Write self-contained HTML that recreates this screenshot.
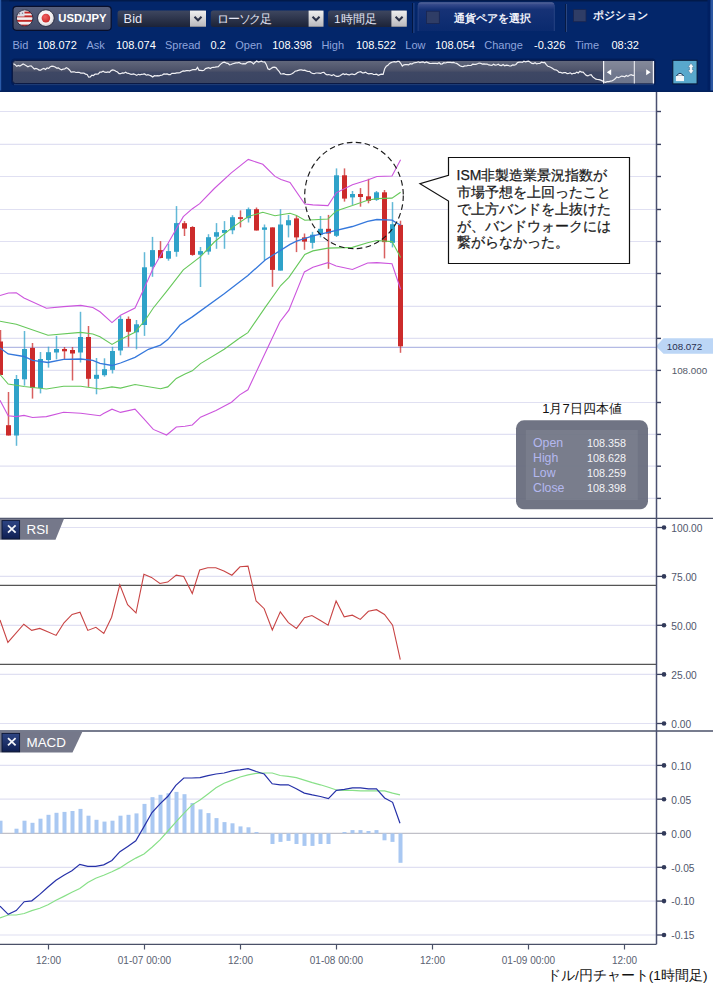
<!DOCTYPE html>
<html><head><meta charset="utf-8"><title>USD/JPY chart</title>
<style>html,body{margin:0;padding:0;width:713px;height:989px;overflow:hidden;background:#fff;font-family:"Liberation Sans",sans-serif;}svg text{font-family:"Liberation Sans",sans-serif;}</style>
</head><body>
<svg width="713" height="989" viewBox="0 0 713 989" style="position:absolute;left:0;top:0"><defs><linearGradient id="xg" x1="0" y1="0" x2="0" y2="1"><stop offset="0" stop-color="#2e4584"/><stop offset="1" stop-color="#0f1f52"/></linearGradient></defs><line x1="0" y1="111.5" x2="656.5" y2="111.5" stroke="#e0e0f2" stroke-width="1.2"/><line x1="0" y1="144.4" x2="656.5" y2="144.4" stroke="#e0e0f2" stroke-width="1.2"/><line x1="0" y1="176.5" x2="656.5" y2="176.5" stroke="#e0e0f2" stroke-width="1.2"/><line x1="0" y1="209.5" x2="656.5" y2="209.5" stroke="#e0e0f2" stroke-width="1.2"/><line x1="0" y1="241.5" x2="656.5" y2="241.5" stroke="#e0e0f2" stroke-width="1.2"/><line x1="0" y1="273.5" x2="656.5" y2="273.5" stroke="#e0e0f2" stroke-width="1.2"/><line x1="0" y1="306.3" x2="656.5" y2="306.3" stroke="#e0e0f2" stroke-width="1.2"/><line x1="0" y1="338.4" x2="656.5" y2="338.4" stroke="#e0e0f2" stroke-width="1.2"/><line x1="0" y1="370.4" x2="656.5" y2="370.4" stroke="#e0e0f2" stroke-width="1.2"/><line x1="0" y1="402.5" x2="656.5" y2="402.5" stroke="#e0e0f2" stroke-width="1.2"/><line x1="0" y1="434.4" x2="656.5" y2="434.4" stroke="#e0e0f2" stroke-width="1.2"/><line x1="0" y1="466.2" x2="656.5" y2="466.2" stroke="#e0e0f2" stroke-width="1.2"/><line x1="0" y1="498.4" x2="656.5" y2="498.4" stroke="#e0e0f2" stroke-width="1.2"/><line x1="0" y1="347.3" x2="656.5" y2="347.3" stroke="#b4bae4" stroke-width="1.3"/><rect x="-0.25" y="330.0" width="1.5" height="45.0" fill="#cc2b2b" fill-opacity="0.75"/><rect x="-2" y="341.5" width="5" height="33.5" fill="#cc2b2b"/><rect x="7.75" y="392.0" width="1.5" height="43.5" fill="#cc2b2b" fill-opacity="0.75"/><rect x="6" y="425.2" width="5" height="10.3" fill="#cc2b2b"/><rect x="15.75" y="375.0" width="1.5" height="70.8" fill="#2fa2c9" fill-opacity="0.75"/><rect x="14" y="379.0" width="5" height="56.5" fill="#2fa2c9"/><rect x="23.75" y="331.0" width="1.5" height="54.7" fill="#2fa2c9" fill-opacity="0.75"/><rect x="22" y="349.0" width="5" height="30.3" fill="#2fa2c9"/><rect x="31.75" y="343.0" width="1.5" height="55.6" fill="#cc2b2b" fill-opacity="0.75"/><rect x="30" y="347.9" width="5" height="40.0" fill="#cc2b2b"/><rect x="39.75" y="352.0" width="1.5" height="41.4" fill="#2fa2c9" fill-opacity="0.75"/><rect x="38" y="359.0" width="5" height="29.0" fill="#2fa2c9"/><rect x="47.75" y="346.7" width="1.5" height="20.9" fill="#2fa2c9" fill-opacity="0.75"/><rect x="46" y="352.2" width="5" height="7.8" fill="#2fa2c9"/><rect x="55.75" y="335.8" width="1.5" height="23.6" fill="#2fa2c9" fill-opacity="0.75"/><rect x="54" y="349.0" width="5" height="3.5" fill="#2fa2c9"/><rect x="63.75" y="347.0" width="1.5" height="12.4" fill="#cc2b2b" fill-opacity="0.75"/><rect x="62" y="349.0" width="5" height="2.3" fill="#cc2b2b"/><rect x="71.75" y="347.0" width="1.5" height="33.5" fill="#cc2b2b" fill-opacity="0.75"/><rect x="70" y="350.0" width="5" height="3.5" fill="#cc2b2b"/><rect x="79.75" y="311.8" width="1.5" height="50.7" fill="#2fa2c9" fill-opacity="0.75"/><rect x="78" y="337.0" width="5" height="15.5" fill="#2fa2c9"/><rect x="87.75" y="326.0" width="1.5" height="60.9" fill="#cc2b2b" fill-opacity="0.75"/><rect x="86" y="337.0" width="5" height="41.8" fill="#cc2b2b"/><rect x="95.75" y="358.0" width="1.5" height="36.3" fill="#2fa2c9" fill-opacity="0.75"/><rect x="94" y="374.8" width="5" height="4.0" fill="#2fa2c9"/><rect x="103.75" y="358.3" width="1.5" height="18.4" fill="#2fa2c9" fill-opacity="0.75"/><rect x="102" y="369.2" width="5" height="6.0" fill="#2fa2c9"/><rect x="111.75" y="346.8" width="1.5" height="26.7" fill="#2fa2c9" fill-opacity="0.75"/><rect x="110" y="351.0" width="5" height="18.9" fill="#2fa2c9"/><rect x="119.75" y="316.0" width="1.5" height="39.3" fill="#2fa2c9" fill-opacity="0.75"/><rect x="118" y="318.9" width="5" height="31.6" fill="#2fa2c9"/><rect x="127.75" y="316.5" width="1.5" height="30.3" fill="#cc2b2b" fill-opacity="0.75"/><rect x="126" y="318.9" width="5" height="12.9" fill="#cc2b2b"/><rect x="135.75" y="320.0" width="1.5" height="29.3" fill="#2fa2c9" fill-opacity="0.75"/><rect x="134" y="324.3" width="5" height="8.0" fill="#2fa2c9"/><rect x="143.75" y="252.2" width="1.5" height="83.7" fill="#2fa2c9" fill-opacity="0.75"/><rect x="142" y="267.3" width="5" height="57.7" fill="#2fa2c9"/><rect x="151.75" y="236.9" width="1.5" height="39.9" fill="#2fa2c9" fill-opacity="0.75"/><rect x="150" y="250.1" width="5" height="16.6" fill="#2fa2c9"/><rect x="159.75" y="241.1" width="1.5" height="17.2" fill="#cc2b2b" fill-opacity="0.75"/><rect x="158" y="250.1" width="5" height="7.9" fill="#cc2b2b"/><rect x="167.75" y="243.6" width="1.5" height="17.1" fill="#2fa2c9" fill-opacity="0.75"/><rect x="166" y="251.1" width="5" height="7.6" fill="#2fa2c9"/><rect x="175.75" y="206.1" width="1.5" height="50.6" fill="#2fa2c9" fill-opacity="0.75"/><rect x="174" y="223.1" width="5" height="28.7" fill="#2fa2c9"/><rect x="183.75" y="221.1" width="1.5" height="14.9" fill="#cc2b2b" fill-opacity="0.75"/><rect x="182" y="223.2" width="5" height="5.4" fill="#cc2b2b"/><rect x="191.75" y="226.2" width="1.5" height="29.5" fill="#cc2b2b" fill-opacity="0.75"/><rect x="190" y="227.0" width="5" height="27.9" fill="#cc2b2b"/><rect x="199.75" y="247.0" width="1.5" height="40.0" fill="#2fa2c9" fill-opacity="0.75"/><rect x="198" y="251.1" width="5" height="3.6" fill="#2fa2c9"/><rect x="207.75" y="234.2" width="1.5" height="20.5" fill="#2fa2c9" fill-opacity="0.75"/><rect x="206" y="237.2" width="5" height="14.4" fill="#2fa2c9"/><rect x="215.75" y="223.1" width="1.5" height="25.7" fill="#2fa2c9" fill-opacity="0.75"/><rect x="214" y="232.2" width="5" height="4.5" fill="#2fa2c9"/><rect x="223.75" y="221.1" width="1.5" height="27.7" fill="#2fa2c9" fill-opacity="0.75"/><rect x="222" y="230.0" width="5" height="2.9" fill="#2fa2c9"/><rect x="231.75" y="215.2" width="1.5" height="19.0" fill="#2fa2c9" fill-opacity="0.75"/><rect x="230" y="217.2" width="5" height="13.1" fill="#2fa2c9"/><rect x="239.75" y="210.4" width="1.5" height="17.0" fill="#cc2b2b" fill-opacity="0.75"/><rect x="238" y="217.2" width="5" height="1.7" fill="#cc2b2b"/><rect x="247.75" y="207.5" width="1.5" height="15.0" fill="#2fa2c9" fill-opacity="0.75"/><rect x="246" y="209.2" width="5" height="9.0" fill="#2fa2c9"/><rect x="255.75" y="207.5" width="1.5" height="23.0" fill="#cc2b2b" fill-opacity="0.75"/><rect x="254" y="209.2" width="5" height="21.3" fill="#cc2b2b"/><rect x="263.75" y="224.5" width="1.5" height="35.6" fill="#2fa2c9" fill-opacity="0.75"/><rect x="262" y="227.4" width="5" height="2.4" fill="#2fa2c9"/><rect x="271.75" y="227.4" width="1.5" height="59.4" fill="#cc2b2b" fill-opacity="0.75"/><rect x="270" y="227.4" width="5" height="42.5" fill="#cc2b2b"/><rect x="279.75" y="209.2" width="1.5" height="61.4" fill="#2fa2c9" fill-opacity="0.75"/><rect x="278" y="224.5" width="5" height="46.1" fill="#2fa2c9"/><rect x="287.75" y="214.9" width="1.5" height="22.5" fill="#2fa2c9" fill-opacity="0.75"/><rect x="286" y="220.2" width="5" height="5.1" fill="#2fa2c9"/><rect x="295.75" y="216.0" width="1.5" height="36.1" fill="#cc2b2b" fill-opacity="0.75"/><rect x="294" y="218.4" width="5" height="19.0" fill="#cc2b2b"/><rect x="303.75" y="233.5" width="1.5" height="16.3" fill="#cc2b2b" fill-opacity="0.75"/><rect x="302" y="237.4" width="5" height="4.2" fill="#cc2b2b"/><rect x="311.75" y="231.9" width="1.5" height="16.7" fill="#2fa2c9" fill-opacity="0.75"/><rect x="310" y="234.7" width="5" height="8.1" fill="#2fa2c9"/><rect x="319.75" y="216.0" width="1.5" height="21.4" fill="#2fa2c9" fill-opacity="0.75"/><rect x="318" y="228.8" width="5" height="5.9" fill="#2fa2c9"/><rect x="327.75" y="214.9" width="1.5" height="53.9" fill="#cc2b2b" fill-opacity="0.75"/><rect x="326" y="228.8" width="5" height="4.7" fill="#cc2b2b"/><rect x="335.75" y="168.4" width="1.5" height="68.6" fill="#2fa2c9" fill-opacity="0.75"/><rect x="334" y="175.3" width="5" height="60.5" fill="#2fa2c9"/><rect x="343.75" y="168.4" width="1.5" height="33.2" fill="#cc2b2b" fill-opacity="0.75"/><rect x="342" y="175.3" width="5" height="23.3" fill="#cc2b2b"/><rect x="351.75" y="191.0" width="1.5" height="13.9" fill="#2fa2c9" fill-opacity="0.75"/><rect x="350" y="194.0" width="5" height="3.4" fill="#2fa2c9"/><rect x="359.75" y="188.1" width="1.5" height="18.6" fill="#cc2b2b" fill-opacity="0.75"/><rect x="358" y="194.0" width="5" height="3.0" fill="#cc2b2b"/><rect x="367.75" y="178.8" width="1.5" height="24.5" fill="#cc2b2b" fill-opacity="0.75"/><rect x="366" y="196.3" width="5" height="4.6" fill="#cc2b2b"/><rect x="375.75" y="191.0" width="1.5" height="9.9" fill="#2fa2c9" fill-opacity="0.75"/><rect x="374" y="192.3" width="5" height="7.5" fill="#2fa2c9"/><rect x="383.75" y="190.0" width="1.5" height="68.4" fill="#cc2b2b" fill-opacity="0.75"/><rect x="382" y="192.3" width="5" height="49.8" fill="#cc2b2b"/><rect x="391.75" y="202.1" width="1.5" height="45.3" fill="#2fa2c9" fill-opacity="0.75"/><rect x="390" y="224.2" width="5" height="18.6" fill="#2fa2c9"/><rect x="399.75" y="220.7" width="1.5" height="132.1" fill="#cc2b2b" fill-opacity="0.75"/><rect x="398" y="224.9" width="5" height="121.4" fill="#cc2b2b"/><polyline points="0.0,295.5 8.5,293.0 16.3,292.9 24.0,298.0 46.4,308.3 63.6,306.6 80.8,305.4 92.8,307.5 100.0,311.8 112.0,322.6 120.5,315.3 135.0,308.0 143.5,289.8 153.3,268.0 163.0,251.1 167.8,243.7 183.3,216.7 192.4,208.7 199.7,203.6 214.3,188.5 231.3,172.8 248.3,159.4 262.8,164.3 275.0,176.4 281.0,179.6 290.0,182.5 304.8,204.0 312.9,204.9 328.0,205.6 336.2,192.8 352.4,184.7 367.6,180.0 376.9,176.5 392.0,176.0 400.6,159.8" fill="none" stroke="#cc55dd" stroke-width="1.1"/><polyline points="0.0,400.3 8.2,415.7 16.3,416.6 24.0,415.4 32.6,417.5 46.4,416.6 63.6,412.3 80.8,413.2 100.0,415.7 103.5,413.6 112.0,409.2 120.5,412.4 135.0,409.2 143.5,418.4 153.3,429.4 166.6,435.0 176.3,427.0 185.0,426.3 192.3,425.0 200.5,417.2 216.0,410.4 231.5,402.2 239.7,394.9 247.9,389.8 265.2,353.0 279.8,322.0 288.9,310.1 304.4,271.9 312.9,267.2 328.0,262.6 336.2,266.0 352.4,269.5 367.6,263.0 376.9,262.6 392.0,263.7 400.6,289.3" fill="none" stroke="#cc55dd" stroke-width="1.1"/><polyline points="0.0,321.2 16.3,324.3 48.0,335.3 80.8,332.4 92.8,334.0 100.0,336.7 112.0,344.4 120.5,339.6 135.0,332.3 146.0,319.0 153.3,308.0 167.8,289.8 183.3,269.9 200.5,256.7 214.3,242.0 232.5,227.4 248.3,216.5 262.8,212.3 275.0,215.7 290.0,213.3 296.6,215.6 304.8,220.2 328.0,219.0 336.2,210.9 352.4,205.6 367.6,200.2 376.9,198.6 392.0,198.1 400.6,192.3" fill="none" stroke="#66c85a" stroke-width="1.1"/><polyline points="0.0,374.5 8.2,384.0 24.0,386.5 46.4,389.0 63.6,386.2 80.8,386.2 100.0,389.0 112.0,386.9 120.5,388.1 135.0,384.5 160.5,388.8 167.8,386.9 176.3,378.4 185.0,374.0 192.3,370.8 200.5,363.6 224.2,349.3 239.7,338.0 247.9,332.6 265.2,307.4 280.7,285.5 288.9,277.3 304.8,254.4 312.9,250.9 328.0,248.1 352.4,247.4 367.6,242.8 376.9,240.5 392.0,241.6 400.6,257.4" fill="none" stroke="#66c85a" stroke-width="1.1"/><polyline points="0.0,347.9 8.2,353.9 24.0,356.5 32.6,360.4 48.0,362.5 63.6,359.4 80.8,359.0 92.8,360.4 100.0,363.3 112.0,365.5 120.5,363.0 135.0,357.3 148.4,349.3 160.5,345.1 167.8,339.6 180.0,325.0 192.3,316.9 224.2,293.7 247.9,275.5 265.2,260.0 290.0,244.4 296.6,241.2 312.9,235.8 328.0,232.3 352.4,226.5 367.6,221.4 376.9,219.5 392.0,220.2 400.6,225.3" fill="none" stroke="#3578dc" stroke-width="1.3"/><ellipse cx="354" cy="195.5" rx="49.3" ry="53.2" fill="none" stroke="#1a1a1a" stroke-width="1.15" stroke-dasharray="5.6,3.4"/><path d="M448.5,157.5 L629.5,157.5 L629.5,263.5 L448.5,263.5 L448.5,201 L420,183.8 L448.5,175.3 Z" fill="#fff" stroke="#111" stroke-width="1.2"/><text x="456.5" y="180.4" font-size="14" fill="#1a1a1a" stroke="#1a1a1a" stroke-width="0.25" font-family='"Liberation Sans", sans-serif'>ISM非製造業景況指数が</text><text x="456.5" y="197.2" font-size="14" fill="#1a1a1a" stroke="#1a1a1a" stroke-width="0.25" font-family='"Liberation Sans", sans-serif'>市場予想を上回ったこと</text><text x="456.5" y="213.9" font-size="14" fill="#1a1a1a" stroke="#1a1a1a" stroke-width="0.25" font-family='"Liberation Sans", sans-serif'>で上方バンドを上抜けた</text><text x="456.5" y="230.7" font-size="14" fill="#1a1a1a" stroke="#1a1a1a" stroke-width="0.25" font-family='"Liberation Sans", sans-serif'>が、バンドウォークには</text><text x="456.5" y="247.4" font-size="14" fill="#1a1a1a" stroke="#1a1a1a" stroke-width="0.25" font-family='"Liberation Sans", sans-serif'>繋がらなかった。</text><text x="582" y="413.3" font-size="13" fill="#111" text-anchor="middle" font-family='"Liberation Sans", sans-serif'>1月7日四本値</text><rect x="516" y="420.3" width="132" height="89" rx="8" fill="#64687a" fill-opacity="0.92"/><rect x="525.8" y="430" width="112" height="70" fill="#8a8e9c" fill-opacity="0.35"/><text x="533" y="447.3" font-size="12.3" fill="#b4b8f0" font-family='"Liberation Sans", sans-serif'>Open</text><text x="587" y="447.3" font-size="10.8" fill="#f4f4f8" font-family='"Liberation Sans", sans-serif'>108.358</text><text x="533" y="462.3" font-size="12.3" fill="#b4b8f0" font-family='"Liberation Sans", sans-serif'>High</text><text x="587" y="462.3" font-size="10.8" fill="#f4f4f8" font-family='"Liberation Sans", sans-serif'>108.628</text><text x="533" y="477.3" font-size="12.3" fill="#b4b8f0" font-family='"Liberation Sans", sans-serif'>Low</text><text x="587" y="477.3" font-size="10.8" fill="#f4f4f8" font-family='"Liberation Sans", sans-serif'>108.259</text><text x="533" y="492.3" font-size="12.3" fill="#b4b8f0" font-family='"Liberation Sans", sans-serif'>Close</text><text x="587" y="492.3" font-size="10.8" fill="#f4f4f8" font-family='"Liberation Sans", sans-serif'>108.398</text><line x1="656.5" y1="111.5" x2="661" y2="111.5" stroke="#3a4060" stroke-width="1.4"/><line x1="656.5" y1="144.4" x2="661" y2="144.4" stroke="#3a4060" stroke-width="1.4"/><line x1="656.5" y1="176.5" x2="661" y2="176.5" stroke="#3a4060" stroke-width="1.4"/><line x1="656.5" y1="209.5" x2="661" y2="209.5" stroke="#3a4060" stroke-width="1.4"/><line x1="656.5" y1="241.5" x2="661" y2="241.5" stroke="#3a4060" stroke-width="1.4"/><line x1="656.5" y1="273.5" x2="661" y2="273.5" stroke="#3a4060" stroke-width="1.4"/><line x1="656.5" y1="306.3" x2="661" y2="306.3" stroke="#3a4060" stroke-width="1.4"/><line x1="656.5" y1="338.4" x2="661" y2="338.4" stroke="#3a4060" stroke-width="1.4"/><line x1="656.5" y1="370.4" x2="661" y2="370.4" stroke="#3a4060" stroke-width="1.4"/><line x1="656.5" y1="402.5" x2="661" y2="402.5" stroke="#3a4060" stroke-width="1.4"/><line x1="656.5" y1="434.4" x2="661" y2="434.4" stroke="#3a4060" stroke-width="1.4"/><line x1="656.5" y1="466.2" x2="661" y2="466.2" stroke="#3a4060" stroke-width="1.4"/><line x1="656.5" y1="498.4" x2="661" y2="498.4" stroke="#3a4060" stroke-width="1.4"/><text x="671.7" y="374.2" font-size="9.8" fill="#555a6a" font-family='"Liberation Sans", sans-serif'>108.000</text><path d="M657,346.2 Q657,345 658.2,344 L663.5,338.2 L713,338.2 L713,353.8 L663.5,353.8 L658.2,348.4 Q657,347.4 657,346.2 Z" fill="#bcd6f6"/><text x="666.8" y="350.2" font-size="9.8" fill="#2a3050" font-family='"Liberation Sans", sans-serif'>108.072</text><line x1="0" y1="527.5" x2="656.5" y2="527.5" stroke="#e0e0f2" stroke-width="1.2"/><line x1="0" y1="576.4" x2="656.5" y2="576.4" stroke="#e0e0f2" stroke-width="1.2"/><line x1="0" y1="625.3" x2="656.5" y2="625.3" stroke="#e0e0f2" stroke-width="1.2"/><line x1="0" y1="674.4" x2="656.5" y2="674.4" stroke="#e0e0f2" stroke-width="1.2"/><line x1="0" y1="723.5" x2="656.5" y2="723.5" stroke="#e0e0f2" stroke-width="1.2"/><line x1="0" y1="585.3" x2="656.5" y2="585.3" stroke="#555" stroke-width="1.2"/><line x1="0" y1="664.4" x2="656.5" y2="664.4" stroke="#555" stroke-width="1.2"/><polyline points="0.0,620.0 7.9,642.4 23.8,624.2 31.7,630.4 39.8,628.4 47.7,631.8 56.1,635.4 64.0,622.8 72.1,614.4 80.0,612.2 87.8,630.4 95.9,627.3 103.8,633.5 111.6,617.2 119.8,584.9 127.6,604.6 136.0,613.0 143.9,574.3 151.5,577.4 159.9,583.5 167.7,582.1 176.2,575.1 183.7,576.5 192.3,593.5 199.7,570.0 207.7,567.7 215.8,567.7 223.9,571.0 231.9,575.2 240.0,566.8 248.0,566.1 256.1,601.0 264.2,608.7 272.3,630.0 280.3,611.9 288.4,622.6 296.5,628.4 304.5,617.7 311.9,615.5 320.0,620.3 328.1,625.2 336.1,601.0 344.2,616.8 352.3,615.2 360.3,619.4 368.4,611.3 376.5,609.7 384.5,614.5 392.6,625.2 400.3,659.7" fill="none" stroke="#c84444" stroke-width="1.1"/><line x1="656.5" y1="527.5" x2="664" y2="527.5" stroke="#3a4060" stroke-width="1.3"/><circle cx="664" cy="527.5" r="2.3" fill="#323a5a"/><text x="671.3" y="531.8" font-size="10.2" fill="#50566c" font-family='"Liberation Sans", sans-serif'>100.00</text><line x1="656.5" y1="576.4" x2="664" y2="576.4" stroke="#3a4060" stroke-width="1.3"/><circle cx="664" cy="576.4" r="2.3" fill="#323a5a"/><text x="671.3" y="580.7" font-size="10.2" fill="#50566c" font-family='"Liberation Sans", sans-serif'>75.00</text><line x1="656.5" y1="625.3" x2="664" y2="625.3" stroke="#3a4060" stroke-width="1.3"/><circle cx="664" cy="625.3" r="2.3" fill="#323a5a"/><text x="671.3" y="629.6" font-size="10.2" fill="#50566c" font-family='"Liberation Sans", sans-serif'>50.00</text><line x1="656.5" y1="674.4" x2="664" y2="674.4" stroke="#3a4060" stroke-width="1.3"/><circle cx="664" cy="674.4" r="2.3" fill="#323a5a"/><text x="671.3" y="678.7" font-size="10.2" fill="#50566c" font-family='"Liberation Sans", sans-serif'>25.00</text><line x1="656.5" y1="723.5" x2="664" y2="723.5" stroke="#3a4060" stroke-width="1.3"/><circle cx="664" cy="723.5" r="2.3" fill="#323a5a"/><text x="671.3" y="727.8" font-size="10.2" fill="#50566c" font-family='"Liberation Sans", sans-serif'>0.00</text><line x1="0" y1="765.4" x2="656.5" y2="765.4" stroke="#e0e0f2" stroke-width="1.2"/><line x1="0" y1="799.2" x2="656.5" y2="799.2" stroke="#e0e0f2" stroke-width="1.2"/><line x1="0" y1="867.3" x2="656.5" y2="867.3" stroke="#e0e0f2" stroke-width="1.2"/><line x1="0" y1="901.1" x2="656.5" y2="901.1" stroke="#e0e0f2" stroke-width="1.2"/><line x1="0" y1="935.0" x2="656.5" y2="935.0" stroke="#e0e0f2" stroke-width="1.2"/><line x1="0" y1="833.4" x2="656.5" y2="833.4" stroke="#c0c0c8" stroke-width="1.2"/><rect x="-1.5" y="820.7" width="4" height="12.7" fill="#a9c8f2"/><rect x="14.5" y="828.7" width="4" height="4.7" fill="#a9c8f2"/><rect x="22.5" y="820.7" width="4" height="12.7" fill="#a9c8f2"/><rect x="30.5" y="822.8" width="4" height="10.6" fill="#a9c8f2"/><rect x="38.5" y="818.7" width="4" height="14.7" fill="#a9c8f2"/><rect x="46.5" y="814.8" width="4" height="18.6" fill="#a9c8f2"/><rect x="54.5" y="812.8" width="4" height="20.6" fill="#a9c8f2"/><rect x="62.5" y="811.9" width="4" height="21.5" fill="#a9c8f2"/><rect x="70.5" y="811.0" width="4" height="22.4" fill="#a9c8f2"/><rect x="78.5" y="808.9" width="4" height="24.5" fill="#a9c8f2"/><rect x="86.5" y="815.7" width="4" height="17.7" fill="#a9c8f2"/><rect x="94.5" y="819.8" width="4" height="13.6" fill="#a9c8f2"/><rect x="102.5" y="821.6" width="4" height="11.8" fill="#a9c8f2"/><rect x="110.5" y="820.7" width="4" height="12.7" fill="#a9c8f2"/><rect x="118.5" y="815.7" width="4" height="17.7" fill="#a9c8f2"/><rect x="126.5" y="814.8" width="4" height="18.6" fill="#a9c8f2"/><rect x="134.5" y="813.4" width="4" height="20.0" fill="#a9c8f2"/><rect x="142.5" y="803.9" width="4" height="29.5" fill="#a9c8f2"/><rect x="150.5" y="797.2" width="4" height="36.2" fill="#a9c8f2"/><rect x="158.5" y="794.8" width="4" height="38.6" fill="#a9c8f2"/><rect x="166.5" y="793.3" width="4" height="40.1" fill="#a9c8f2"/><rect x="174.5" y="791.9" width="4" height="41.5" fill="#a9c8f2"/><rect x="182.5" y="794.2" width="4" height="39.2" fill="#a9c8f2"/><rect x="190.5" y="803.0" width="4" height="30.4" fill="#a9c8f2"/><rect x="198.5" y="809.4" width="4" height="24.0" fill="#a9c8f2"/><rect x="206.5" y="813.1" width="4" height="20.3" fill="#a9c8f2"/><rect x="214.5" y="818.1" width="4" height="15.3" fill="#a9c8f2"/><rect x="222.5" y="822.1" width="4" height="11.3" fill="#a9c8f2"/><rect x="230.5" y="823.3" width="4" height="10.1" fill="#a9c8f2"/><rect x="238.5" y="826.4" width="4" height="7.0" fill="#a9c8f2"/><rect x="246.5" y="827.3" width="4" height="6.1" fill="#a9c8f2"/><rect x="254.5" y="832.0" width="4" height="1.4" fill="#a9c8f2"/><rect x="270.5" y="833.4" width="4" height="10.6" fill="#a9c8f2"/><rect x="278.5" y="833.4" width="4" height="8.5" fill="#a9c8f2"/><rect x="286.5" y="833.4" width="4" height="7.5" fill="#a9c8f2"/><rect x="294.5" y="833.4" width="4" height="10.6" fill="#a9c8f2"/><rect x="302.5" y="833.4" width="4" height="12.5" fill="#a9c8f2"/><rect x="310.5" y="833.4" width="4" height="12.5" fill="#a9c8f2"/><rect x="318.5" y="833.4" width="4" height="10.6" fill="#a9c8f2"/><rect x="326.5" y="833.4" width="4" height="10.6" fill="#a9c8f2"/><rect x="342.5" y="832.0" width="4" height="1.4" fill="#a9c8f2"/><rect x="350.5" y="830.1" width="4" height="3.3" fill="#a9c8f2"/><rect x="358.5" y="830.1" width="4" height="3.3" fill="#a9c8f2"/><rect x="366.5" y="831.0" width="4" height="2.4" fill="#a9c8f2"/><rect x="374.5" y="830.1" width="4" height="3.3" fill="#a9c8f2"/><rect x="382.5" y="833.4" width="4" height="6.9" fill="#a9c8f2"/><rect x="390.5" y="833.4" width="4" height="8.5" fill="#a9c8f2"/><rect x="398.5" y="833.4" width="4" height="29.4" fill="#a9c8f2"/><polyline points="0.0,917.9 8.2,915.0 16.2,915.0 24.2,913.5 31.8,910.6 39.8,908.2 48.0,904.7 56.0,900.3 63.9,896.4 71.9,892.3 79.8,888.5 87.8,882.6 95.7,878.2 103.7,875.2 111.9,871.7 119.9,867.9 127.8,862.8 135.8,858.1 144.0,854.0 152.0,847.2 160.0,839.9 167.9,831.0 175.8,822.2 183.8,813.4 191.8,805.1 200.0,800.0 208.0,794.0 216.0,787.8 224.1,783.2 232.1,780.1 240.1,777.0 248.1,774.9 256.2,773.3 264.2,773.0 272.2,773.0 280.2,775.5 288.3,776.4 296.3,777.7 304.3,780.1 312.3,782.6 320.4,784.8 328.4,787.2 336.4,790.0 344.4,790.3 352.5,790.3 360.5,790.9 368.5,790.9 376.5,790.9 384.6,790.9 392.6,793.1 400.0,794.9" fill="none" stroke="#88e088" stroke-width="1.2"/><polyline points="0.0,906.1 8.2,914.4 16.2,910.6 24.2,901.7 31.8,900.8 39.8,894.4 48.0,887.0 56.0,880.2 63.9,875.2 71.9,870.8 79.8,864.3 87.8,866.4 95.7,866.4 103.7,864.9 111.9,860.5 119.9,851.7 127.8,846.4 135.8,840.8 144.0,826.6 152.0,812.5 160.0,803.9 167.9,796.3 175.8,785.4 183.8,778.0 191.8,778.0 200.0,777.6 208.0,775.6 216.0,774.0 224.1,773.0 232.1,770.9 240.1,769.9 248.1,768.7 256.2,771.5 264.2,774.0 272.2,783.8 280.2,784.8 288.3,784.8 296.3,788.8 304.3,793.1 312.3,794.9 320.4,796.5 328.4,798.6 336.4,790.3 344.4,789.4 352.5,787.8 360.5,787.8 368.5,788.8 376.5,788.8 384.6,798.0 392.6,802.3 400.0,823.3" fill="none" stroke="#2530a8" stroke-width="1.2"/><line x1="656.5" y1="765.4" x2="664" y2="765.4" stroke="#3a4060" stroke-width="1.3"/><circle cx="664" cy="765.4" r="2.3" fill="#323a5a"/><text x="671.3" y="769.7" font-size="10.2" fill="#50566c" font-family='"Liberation Sans", sans-serif'>0.10</text><line x1="656.5" y1="799.2" x2="664" y2="799.2" stroke="#3a4060" stroke-width="1.3"/><circle cx="664" cy="799.2" r="2.3" fill="#323a5a"/><text x="671.3" y="803.5" font-size="10.2" fill="#50566c" font-family='"Liberation Sans", sans-serif'>0.05</text><line x1="656.5" y1="833.4" x2="664" y2="833.4" stroke="#3a4060" stroke-width="1.3"/><circle cx="664" cy="833.4" r="2.3" fill="#323a5a"/><text x="671.3" y="837.7" font-size="10.2" fill="#50566c" font-family='"Liberation Sans", sans-serif'>0.00</text><line x1="656.5" y1="867.3" x2="664" y2="867.3" stroke="#3a4060" stroke-width="1.3"/><circle cx="664" cy="867.3" r="2.3" fill="#323a5a"/><text x="671.3" y="871.6" font-size="10.2" fill="#50566c" font-family='"Liberation Sans", sans-serif'>-0.05</text><line x1="656.5" y1="901.1" x2="664" y2="901.1" stroke="#3a4060" stroke-width="1.3"/><circle cx="664" cy="901.1" r="2.3" fill="#323a5a"/><text x="671.3" y="905.4" font-size="10.2" fill="#50566c" font-family='"Liberation Sans", sans-serif'>-0.10</text><line x1="656.5" y1="935.0" x2="664" y2="935.0" stroke="#3a4060" stroke-width="1.3"/><circle cx="664" cy="935.0" r="2.3" fill="#323a5a"/><text x="671.3" y="939.3" font-size="10.2" fill="#50566c" font-family='"Liberation Sans", sans-serif'>-0.15</text><line x1="0" y1="518.3" x2="713" y2="518.3" stroke="#4a5068" stroke-width="1.3"/><line x1="0" y1="731" x2="713" y2="731" stroke="#4a5068" stroke-width="1.3"/><line x1="0" y1="944.3" x2="656.5" y2="944.3" stroke="#4a5068" stroke-width="1.3"/><line x1="656.5" y1="92" x2="656.5" y2="944.3" stroke="#4a5070" stroke-width="1.5"/><line x1="48.5" y1="944" x2="48.5" y2="949.5" stroke="#4a5068" stroke-width="1.2"/><text x="48.5" y="963.5" font-size="10" fill="#5a5f72" text-anchor="middle" font-family='"Liberation Sans", sans-serif'>12:00</text><line x1="144.5" y1="944" x2="144.5" y2="949.5" stroke="#4a5068" stroke-width="1.2"/><text x="144.5" y="963.5" font-size="10" fill="#5a5f72" text-anchor="middle" font-family='"Liberation Sans", sans-serif'>01-07 00:00</text><line x1="240.5" y1="944" x2="240.5" y2="949.5" stroke="#4a5068" stroke-width="1.2"/><text x="240.5" y="963.5" font-size="10" fill="#5a5f72" text-anchor="middle" font-family='"Liberation Sans", sans-serif'>12:00</text><line x1="336.5" y1="944" x2="336.5" y2="949.5" stroke="#4a5068" stroke-width="1.2"/><text x="336.5" y="963.5" font-size="10" fill="#5a5f72" text-anchor="middle" font-family='"Liberation Sans", sans-serif'>01-08 00:00</text><line x1="432.5" y1="944" x2="432.5" y2="949.5" stroke="#4a5068" stroke-width="1.2"/><text x="432.5" y="963.5" font-size="10" fill="#5a5f72" text-anchor="middle" font-family='"Liberation Sans", sans-serif'>12:00</text><line x1="528.5" y1="944" x2="528.5" y2="949.5" stroke="#4a5068" stroke-width="1.2"/><text x="528.5" y="963.5" font-size="10" fill="#5a5f72" text-anchor="middle" font-family='"Liberation Sans", sans-serif'>01-09 00:00</text><line x1="624.5" y1="944" x2="624.5" y2="949.5" stroke="#4a5068" stroke-width="1.2"/><text x="624.5" y="963.5" font-size="10" fill="#5a5f72" text-anchor="middle" font-family='"Liberation Sans", sans-serif'>12:00</text><text x="707.5" y="979.9" font-size="13.7" fill="#111" text-anchor="end" font-family='"Liberation Sans", sans-serif'>ドル/円チャート(1時間足)</text><path d="M0,518.8 L64,518.8 L55.5,539.7 L0,539.7 Z" fill="#75788a"/><rect x="2" y="520.6" width="17.6" height="18.3" fill="url(#xg)" stroke="#0a1434" stroke-width="0.9"/><path d="M8.0,525.35 L15.600000000000001,532.5500000000001 M15.600000000000001,525.35 L8.0,532.5500000000001" stroke="#f4f6fa" stroke-width="1.8"/><text x="26.5" y="533.9" font-size="13.4" fill="#fff" font-family='"Liberation Sans", sans-serif'>RSI</text><path d="M0,731.6 L82.5,731.6 L72.5,752.6 L0,752.6 Z" fill="#75788a"/><rect x="2" y="733.4" width="17.6" height="18.4" fill="url(#xg)" stroke="#0a1434" stroke-width="0.9"/><path d="M8.0,738.2 L15.600000000000001,745.4000000000001 M15.600000000000001,738.2 L8.0,745.4000000000001" stroke="#f4f6fa" stroke-width="1.8"/><text x="26.5" y="746.7" font-size="13.4" fill="#fff" font-family='"Liberation Sans", sans-serif'>MACD</text></svg>
<svg width="713" height="92" viewBox="0 0 713 92" style="position:absolute;left:0;top:0"><defs><linearGradient id="ms" x1="0" y1="0" x2="0" y2="1"><stop offset="0" stop-color="#62687c"/><stop offset="0.47" stop-color="#4a5068"/><stop offset="0.49" stop-color="#3e4764"/><stop offset="1" stop-color="#3a4462"/></linearGradient><linearGradient id="dd" x1="0" y1="0" x2="0" y2="1"><stop offset="0" stop-color="#3e4760"/><stop offset="1" stop-color="#1c2338"/></linearGradient><linearGradient id="ar" x1="0" y1="0" x2="0" y2="1"><stop offset="0" stop-color="#f0f0f0"/><stop offset="1" stop-color="#b8b8bc"/></linearGradient><linearGradient id="tb" x1="0" y1="0" x2="0" y2="1"><stop offset="0" stop-color="#5a6a9c"/><stop offset="0.08" stop-color="#34498a"/><stop offset="0.25" stop-color="#163276"/><stop offset="1" stop-color="#0a2a6e"/></linearGradient><linearGradient id="us" x1="0" y1="0" x2="0" y2="1"><stop offset="0" stop-color="#fff"/><stop offset="1" stop-color="#ddd"/></linearGradient><clipPath id="usc"><circle cx="24.7" cy="18.1" r="8.3"/></clipPath></defs><rect x="0" y="0" width="713" height="92" fill="#03266a"/><rect x="0" y="0" width="713" height="1.5" fill="#021a4a"/><rect x="707.5" y="0" width="3" height="92" fill="#012062"/><rect x="710.5" y="0" width="2.5" height="92" fill="#2a56a0"/><rect x="0" y="0" width="1.3" height="92" fill="#2a5aa8"/><rect x="1.3" y="0" width="8" height="92" fill="#03245f" fill-opacity="0.5"/><rect x="0" y="90.5" width="713" height="1.5" fill="#03215c"/><defs><linearGradient id="cb" x1="0" y1="0" x2="0" y2="1"><stop offset="0" stop-color="#59617e"/><stop offset="1" stop-color="#414965"/></linearGradient><radialGradient id="jp" cx="0.45" cy="0.4" r="0.6"><stop offset="0" stop-color="#ffffff"/><stop offset="0.7" stop-color="#f0eef0"/><stop offset="1" stop-color="#c8c6cc"/></radialGradient><radialGradient id="jr" cx="0.4" cy="0.35" r="0.7"><stop offset="0" stop-color="#f06060"/><stop offset="1" stop-color="#c82828"/></radialGradient></defs><rect x="13" y="6.3" width="98.2" height="24" rx="3.5" fill="url(#cb)" stroke="#080f2c" stroke-width="1.2"/><g clip-path="url(#usc)"><rect x="16" y="9" width="18" height="18" fill="#f2eef0"/><rect x="16" y="11.6" width="18" height="1.9" fill="#c02828"/><rect x="16" y="15.4" width="18" height="1.9" fill="#c02828"/><rect x="16" y="19.9" width="18" height="1.9" fill="#c02828"/><rect x="16" y="24.6" width="18" height="1.9" fill="#c02828"/><rect x="16" y="9" width="8.5" height="7.5" fill="#dcdce6"/><circle cx="18.5" cy="11.5" r="0.7" fill="#7a7a90"/><circle cx="21" cy="11" r="0.7" fill="#7a7a90"/><circle cx="19.5" cy="13.8" r="0.7" fill="#7a7a90"/><circle cx="22.5" cy="13.2" r="0.7" fill="#7a7a90"/><circle cx="17.5" cy="14.5" r="0.7" fill="#7a7a90"/></g><circle cx="24.7" cy="18.1" r="8.3" fill="none" stroke="#2a3046" stroke-width="1"/><circle cx="45.9" cy="18.1" r="8.4" fill="url(#jp)" stroke="#2a3046" stroke-width="1"/><circle cx="45.9" cy="18.1" r="4.3" fill="url(#jr)"/><text x="58.3" y="22.2" font-size="11.3" font-weight="bold" fill="#fff" font-family='"Liberation Sans", sans-serif'>USD/JPY</text><rect x="117.6" y="10.4" width="88.4" height="16.5" rx="2.5" fill="url(#dd)"/><rect x="190" y="10.6" width="16.0" height="16.1" fill="url(#ar)"/><path d="M194.5,16.8 L198.0,20.3 L201.5,16.8" fill="none" stroke="#2a3148" stroke-width="2"/><text x="123.6" y="23.3" font-size="12.8" letter-spacing="0" fill="#e4e6f4" font-family='"Liberation Sans", sans-serif'>Bid</text><rect x="210.8" y="10.4" width="112.7" height="16.5" rx="2.5" fill="url(#dd)"/><rect x="308.6" y="10.6" width="14.9" height="16.1" fill="url(#ar)"/><path d="M312.55,16.8 L316.05,20.3 L319.55,16.8" fill="none" stroke="#2a3148" stroke-width="2"/><text x="216.8" y="23.3" font-size="12.4" letter-spacing="-1.1" fill="#e4e6f4" font-family='"Liberation Sans", sans-serif'>ローソク足</text><rect x="328" y="10.4" width="78.8" height="16.5" rx="2.5" fill="url(#dd)"/><rect x="391.4" y="10.6" width="15.4" height="16.1" fill="url(#ar)"/><path d="M395.6,16.8 L399.1,20.3 L402.6,16.8" fill="none" stroke="#2a3148" stroke-width="2"/><text x="334.0" y="23.3" font-size="11.8" letter-spacing="0" fill="#e4e6f4" font-family='"Liberation Sans", sans-serif'>1時間足</text><rect x="412" y="3" width="1.2" height="30" fill="#021640"/><rect x="413.4" y="3" width="1" height="30" fill="#2a4a8a"/><path d="M418,31 L418,5 Q418,2.3 421,2.3 L551.5,2.3 Q554.4,2.3 554.4,5 L554.4,31 Z" fill="url(#tb)"/><rect x="417.6" y="5" width="1" height="26" fill="#2e4a88" fill-opacity="0.8"/><rect x="553.8" y="5" width="1" height="26" fill="#2e4a88" fill-opacity="0.8"/><rect x="426.5" y="11.2" width="12.8" height="12.4" fill="#2f3d66" stroke="#1a2650" stroke-width="0.8"/><text x="453.8" y="22.3" font-size="11" font-weight="bold" fill="#f0f2fa" font-family='"Liberation Sans", sans-serif'>通貨ペアを選択</text><rect x="565" y="4" width="1" height="28" fill="#061a44"/><rect x="566" y="4" width="1" height="28" fill="#2a4680"/><rect x="573.5" y="9.6" width="12.5" height="12.1" fill="#2f3d66" stroke="#1a2650" stroke-width="0.8"/><text x="593.3" y="19.2" font-size="11" font-weight="bold" fill="#f0f2fa" font-family='"Liberation Sans", sans-serif'>ポジション</text><text x="12.5" y="48.8" font-size="11" fill="#8ea4dc" font-family='"Liberation Sans", sans-serif'>Bid</text><text x="37" y="48.8" font-size="11" fill="#ffffff" font-family='"Liberation Sans", sans-serif'>108.072</text><text x="86.5" y="48.8" font-size="11" fill="#8ea4dc" font-family='"Liberation Sans", sans-serif'>Ask</text><text x="116" y="48.8" font-size="11" fill="#ffffff" font-family='"Liberation Sans", sans-serif'>108.074</text><text x="165" y="48.8" font-size="11" fill="#8ea4dc" font-family='"Liberation Sans", sans-serif'>Spread</text><text x="210.4" y="48.8" font-size="11" fill="#ffffff" font-family='"Liberation Sans", sans-serif'>0.2</text><text x="235.3" y="48.8" font-size="11" fill="#8ea4dc" font-family='"Liberation Sans", sans-serif'>Open</text><text x="272.2" y="48.8" font-size="11" fill="#ffffff" font-family='"Liberation Sans", sans-serif'>108.398</text><text x="321.4" y="48.8" font-size="11" fill="#8ea4dc" font-family='"Liberation Sans", sans-serif'>High</text><text x="356" y="48.8" font-size="11" fill="#ffffff" font-family='"Liberation Sans", sans-serif'>108.522</text><text x="405.3" y="48.8" font-size="11" fill="#8ea4dc" font-family='"Liberation Sans", sans-serif'>Low</text><text x="435.2" y="48.8" font-size="11" fill="#ffffff" font-family='"Liberation Sans", sans-serif'>108.054</text><text x="484.3" y="48.8" font-size="11" fill="#8ea4dc" font-family='"Liberation Sans", sans-serif'>Change</text><text x="534.1" y="48.8" font-size="11" fill="#ffffff" font-family='"Liberation Sans", sans-serif'>-0.326</text><text x="575" y="48.8" font-size="11" fill="#8ea4dc" font-family='"Liberation Sans", sans-serif'>Time</text><text x="611.4" y="48.8" font-size="11" fill="#ffffff" font-family='"Liberation Sans", sans-serif'>08:32</text><rect x="11" y="58.5" width="645" height="27" rx="4" fill="#021d58"/><rect x="12.5" y="60.5" width="642" height="23" rx="3" fill="url(#ms)" stroke="#0c1a44" stroke-width="1"/><rect x="603.3" y="61" width="50.5" height="22.5" fill="#b0b4c0" fill-opacity="0.45"/><polyline points="13.5,63.8 15.1,64.7 16.7,66.3 18.3,65.5 19.9,66.1 21.5,65.1 23.1,63.9 24.7,64.8 26.3,65.7 27.9,66.7 29.5,66.0 31.1,65.9 32.7,67.4 34.3,69.0 35.9,68.4 37.5,69.0 39.1,70.1 40.7,70.2 42.3,69.0 43.9,68.5 45.5,69.5 47.1,67.9 48.7,68.4 50.3,66.7 51.9,66.1 53.5,66.4 55.1,67.0 56.7,68.1 58.3,67.8 59.9,69.0 61.5,69.8 63.1,69.2 64.7,69.0 66.3,67.8 67.9,68.5 69.5,70.0 71.1,72.0 72.7,71.8 74.3,71.8 75.9,72.5 77.5,72.4 79.1,72.3 80.7,73.1 82.3,73.1 83.9,73.0 85.5,74.1 87.1,74.5 88.7,77.2 90.3,76.9 91.9,75.1 93.5,75.5 95.1,74.1 96.7,74.2 98.3,73.9 99.9,72.2 101.5,72.1 103.1,71.3 104.7,72.2 106.3,72.3 107.9,71.9 109.5,72.3 111.1,70.6 112.7,69.9 114.3,70.2 115.9,71.2 117.5,72.1 119.1,73.6 120.7,73.7 122.3,72.9 123.9,73.2 125.5,72.2 127.1,73.1 128.7,73.3 130.3,74.2 131.9,74.3 133.5,73.9 135.1,74.5 136.7,75.4 138.3,74.3 139.9,74.9 141.5,74.3 143.1,74.2 144.7,74.0 146.3,75.2 147.9,74.7 149.5,75.3 151.1,75.9 152.7,77.1 154.3,75.7 155.9,75.9 157.5,75.6 159.1,75.8 160.7,75.3 162.3,75.0 163.9,73.9 165.5,74.1 167.1,73.9 168.7,74.6 170.3,74.6 171.9,73.3 173.5,73.3 175.1,73.3 176.7,72.9 178.3,72.8 179.9,72.6 181.5,71.7 183.1,70.9 184.7,71.1 186.3,70.6 187.9,70.5 189.5,70.8 191.1,70.2 192.7,69.7 194.3,69.7 195.9,69.6 197.5,67.4 199.1,70.4 200.7,70.4 202.3,70.7 203.9,70.3 205.5,68.6 207.1,68.1 208.7,67.7 210.3,68.5 211.9,67.5 213.5,67.3 215.1,67.2 216.7,66.9 218.3,66.7 219.9,64.9 221.5,63.4 223.1,62.3 224.7,62.1 226.3,63.2 227.9,63.4 229.5,64.8 231.1,64.5 232.7,63.7 234.3,63.3 235.9,62.9 237.5,62.8 239.1,62.4 240.7,63.5 242.3,63.9 243.9,63.7 245.5,63.8 247.1,62.5 248.7,61.9 250.3,61.7 251.9,62.4 253.5,64.0 255.1,62.3 256.7,61.0 258.3,62.1 259.9,61.6 261.5,61.2 263.1,62.0 264.7,61.9 266.3,64.4 267.9,68.7 269.5,69.5 271.1,68.6 272.7,67.4 274.3,67.1 275.9,67.6 277.5,69.7 279.1,71.4 280.7,74.0 282.3,73.9 283.9,73.7 285.5,74.5 287.1,74.7 288.7,74.6 290.3,74.5 291.9,73.7 293.5,72.8 295.1,71.2 296.7,70.9 298.3,70.4 299.9,69.9 301.5,69.9 303.1,70.3 304.7,70.2 306.3,70.9 307.9,71.5 309.5,71.4 311.1,72.8 312.7,73.5 314.3,73.7 315.9,73.0 317.5,73.0 319.1,73.2 320.7,73.4 322.3,72.5 323.9,72.3 325.5,74.0 327.1,74.8 328.7,74.5 330.3,75.0 331.9,75.5 333.5,74.6 335.1,75.8 336.7,76.4 338.3,76.4 339.9,75.7 341.5,74.7 343.1,73.7 344.7,74.6 346.3,73.9 347.9,74.7 349.5,74.9 351.1,74.0 352.7,74.1 354.3,74.7 355.9,73.9 357.5,72.6 359.1,72.0 360.7,71.6 362.3,72.8 363.9,72.9 365.5,72.1 367.1,73.3 368.7,73.8 370.3,73.6 371.9,73.6 373.5,74.5 375.1,74.4 376.7,74.2 378.3,75.4 379.9,74.6 381.5,74.2 383.1,74.3 384.7,68.8 386.3,66.2 387.9,65.3 389.5,63.4 391.1,62.6 392.7,62.0 394.3,61.7 395.9,62.1 397.5,61.4 399.1,61.4 400.7,63.3 402.3,66.0 403.9,64.8 405.5,64.7 407.1,64.6 408.7,64.8 410.3,63.6 411.9,64.0 413.5,63.0 415.1,62.6 416.7,62.5 418.3,61.8 419.9,62.5 421.5,62.1 423.1,61.8 424.7,62.9 426.3,61.9 427.9,62.6 429.5,63.4 431.1,63.5 432.7,63.3 434.3,63.4 435.9,63.4 437.5,63.6 439.1,62.7 440.7,64.0 442.3,63.8 443.9,62.7 445.5,63.0 447.1,62.4 448.7,62.3 450.3,62.4 451.9,62.7 453.5,62.4 455.1,63.0 456.7,63.4 458.3,64.5 459.9,65.8 461.5,66.4 463.1,66.6 464.7,65.9 466.3,66.0 467.9,65.4 469.5,65.5 471.1,65.4 472.7,64.2 474.3,64.3 475.9,64.3 477.5,63.7 479.1,63.0 480.7,63.3 482.3,64.1 483.9,63.8 485.5,64.1 487.1,64.0 488.7,64.9 490.3,65.2 491.9,65.4 493.5,64.3 495.1,65.1 496.7,65.0 498.3,64.3 499.9,65.4 501.5,65.6 503.1,64.6 504.7,65.8 506.3,65.1 507.9,65.3 509.5,66.0 511.1,65.8 512.7,64.8 514.3,65.2 515.9,64.5 517.5,62.6 519.1,62.1 520.7,62.0 522.3,62.4 523.9,61.2 525.5,61.8 527.1,61.4 528.7,61.1 530.3,62.3 531.9,63.4 533.5,63.6 535.1,62.7 536.7,63.9 538.3,63.5 539.9,63.5 541.5,62.2 543.1,62.6 544.7,62.4 546.3,64.7 547.9,66.3 549.5,66.7 551.1,67.5 552.7,68.6 554.3,69.6 555.9,69.8 557.5,70.7 559.1,72.4 560.7,72.4 562.3,73.0 563.9,72.6 565.5,72.6 567.1,73.6 568.7,73.3 570.3,72.8 571.9,74.0 573.5,73.3 575.1,73.4 576.7,72.1 578.3,72.9 579.9,71.3 581.5,72.1 583.1,72.2 584.7,73.8 586.3,75.4 587.9,75.9 589.5,75.0 591.1,74.7 592.7,76.9 594.3,78.1 595.9,79.2 597.5,79.5 599.1,79.6 600.7,80.1 602.3,80.9 603.9,81.7 605.5,82.4 607.1,81.6 608.7,81.7 610.3,81.1 611.9,81.0 613.5,80.1 615.1,78.8 616.7,77.0 618.3,77.7 619.9,77.0 621.5,76.1 623.1,76.3 624.7,76.8 626.3,75.5 627.9,76.4 629.5,75.2 631.1,74.7 632.7,75.4 634.1,75.3" fill="none" stroke="#f0f0f4" stroke-width="1.2"/><rect x="603" y="61" width="1.2" height="22.5" fill="#f4f4f8"/><rect x="633.8" y="61" width="1" height="22.5" fill="#f4f4f8"/><rect x="652.8" y="61" width="1.3" height="22.5" fill="#f0f0f6"/><rect x="14" y="84.2" width="640" height="1" fill="#2c4c88" fill-opacity="0.8"/><path d="M606.8,72.2 L611.2,69.2 L611.2,75.2 Z" fill="#fff"/><path d="M650.6,72.2 L646.2,69.2 L646.2,75.2 Z" fill="#fff"/><rect x="672.8" y="60.3" width="24.3" height="23.6" fill="#58a8cc" stroke="#081634" stroke-width="1"/><path d="M676.3,76.2 Q680,70.3 683.7,76.2 Z" fill="#f4f8fa" stroke="#10284a" stroke-width="0.9"/><rect x="675.9" y="76" width="8.1" height="5.1" fill="#f4f8fa"/><path d="M691,63.2 L694,67.3 L692.4,67.3 L692.4,70 L694,70 L691,74.2 L688,70 L689.6,70 L689.6,67.3 L688,67.3 Z" fill="#f4f8fa" stroke="#2a5a80" stroke-width="0.4"/></svg>
</body></html>
